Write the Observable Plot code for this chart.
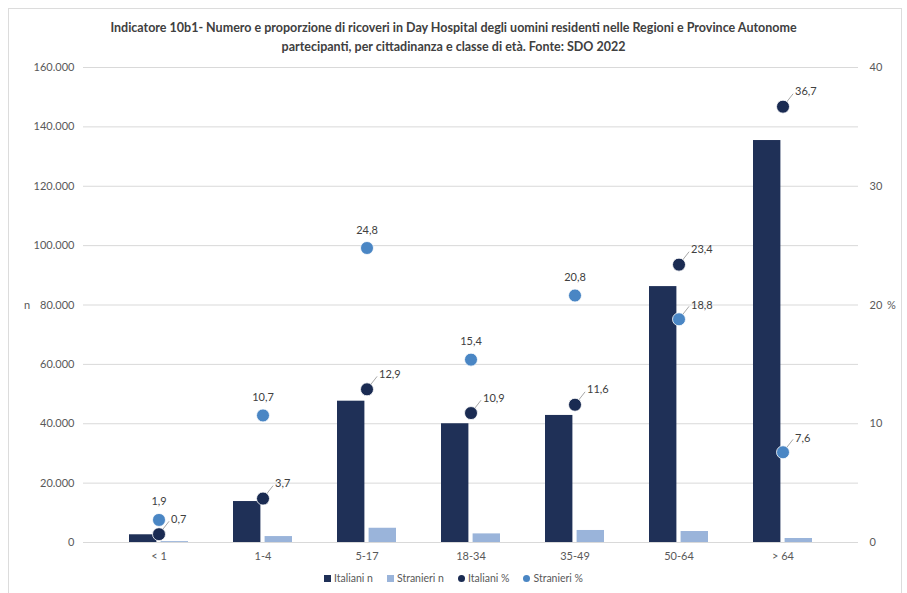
<!DOCTYPE html>
<html>
<head>
<meta charset="utf-8">
<script src="https://cdn.jsdelivr.net/npm/d3@7"></script>
<script src="https://cdn.jsdelivr.net/npm/@observablehq/plot@0.6"></script>
<style>
  html, body { margin: 0; padding: 0; background: #fff; }
  body { width: 907px; height: 593px; position: relative; overflow: hidden; font-family: Lato, "Open Sans", sans-serif; }
  #frame { position: absolute; left: 8px; top: 8px; width: 894px; height: 600px; border: 1px solid #dcdcdc; box-sizing: border-box; }
  #title { position: absolute; left: 0; top: 18px; width: 907px; text-align: center; font-weight: bold; font-size: 12.5px; line-height: 19px; color: #404040; }
  #chart { position: absolute; left: 0; top: 0; }
  #legend { position: absolute; left: 0; top: 572px; width: 907px; text-align: center; font-size: 10.5px; color: #595959; }
  #legend span.item { margin: 0 7px; }
  #legend i { display: inline-block; width: 7px; height: 7px; margin-right: 3px; vertical-align: 0px; }
  .side { position: absolute; font-size: 11px; color: #595959; }
</style>
</head>
<body>
<div id="frame"></div>
<div id="title">Indicatore 10b1- Numero e proporzione di ricoveri in Day Hospital degli uomini residenti nelle Regioni e Province Autonome<br>partecipanti, per cittadinanza e classe di età. Fonte: SDO 2022</div>
<div id="chart"></div>
<div class="side" style="left:24px; top:298px;">n</div>
<div class="side" style="left:887px; top:298px;">%</div>
<div id="legend"></div>
<script>
const categories = ["< 1", "1-4", "5-17", "18-34", "35-49", "50-64", "> 64"];
const italianiN = [2600, 13800, 47600, 40000, 42800, 86200, 135400];
const stranieriN = [300, 2000, 4800, 2900, 4050, 3700, 1350];
const italianiPct = [0.7, 3.7, 12.9, 10.9, 11.6, 23.4, 36.7];
const stranieriPct = [1.9, 10.7, 24.8, 15.4, 20.8, 18.8, 7.6];
const leftTicks = [0, 20000, 40000, 60000, 80000, 100000, 120000, 140000, 160000];
const rightTicks = [0, 10, 20, 30, 40];

const colors = { itN: "#1f3057", stN: "#9ab4da", itP: "#1a2b52", stP: "#4a86c4" };
const ratio = 160000 / 40; // right axis (%) to left axis (n)

const rows = categories.map((c, i) => ({
  cat: c, itN: italianiN[i], stN: stranieriN[i], itP: italianiPct[i], stP: stranieriPct[i]
}));
const fmtN = d => d3.format(",")(d).replace(/,/g, ".");
const fmtP = d => d3.format(".1f")(d).replace(".", ",");
const insideBar = r => r.stP * ratio < r.itN;

const stAbove = rows.filter(r => !insideBar(r));
const stSide = rows.filter(r => insideBar(r));

const noHead = { draw(ctx, l) { ctx.moveTo(0, 0); ctx.lineTo(0, -l); } };

const plot = Plot.plot({
  width: 907,
  height: 593,
  marginTop: 67,
  marginBottom: 51,
  marginLeft: 83,
  marginRight: 49,
  style: { fontFamily: "Lato, 'Open Sans', sans-serif", fontSize: "11px", color: "#595959", background: "transparent" },
  x: { domain: categories, padding: 0.43, label: null },
  y: { domain: [0, 160000], label: null },
  marks: [
    Plot.ruleY(leftTicks, { stroke: "#d9d9d9", strokeWidth: 1 }),
    Plot.axisY(leftTicks, { anchor: "left", tickSize: 0, tickPadding: 9, tickFormat: fmtN, label: null, fill: "#595959" }),
    Plot.axisY(rightTicks.map(t => t * ratio), { anchor: "right", tickSize: 0, tickPadding: 11, tickFormat: d => fmtN(d / ratio), label: null, fill: "#595959", textAnchor: "start" }),
    Plot.axisX({ tickSize: 0, tickPadding: 10, label: null, fill: "#595959" }),
    Plot.barY(rows, { x: "cat", y: "itN", fill: colors.itN, insetRight: 31.6 }),
    Plot.barY(rows, { x: "cat", y: "stN", fill: colors.stN, insetLeft: 31.6 }),
    // leader lines
    Plot.vector(rows, { x: "cat", y: d => d.itP * ratio, length: 16, rotate: 38, anchor: "start", shape: noHead, stroke: "#a6a6a6", strokeWidth: 0.9 }),
    Plot.vector(stSide, { x: "cat", y: d => d.stP * ratio, length: 16, rotate: 38, anchor: "start", shape: noHead, stroke: "#a6a6a6", strokeWidth: 0.9 }),
    Plot.dot(rows, { x: "cat", y: d => d.stP * ratio, r: 6.5, fill: colors.stP, stroke: "#ffffff", strokeWidth: 0.8 }),
    Plot.dot(rows, { x: "cat", y: d => d.itP * ratio, r: 6.5, fill: colors.itP, stroke: "#ffffff", strokeWidth: 0.8 }),
    Plot.text(stAbove, { x: "cat", y: d => d.stP * ratio, text: d => fmtP(d.stP), dy: -18, fill: "#404040", fontSize: 11 }),
    Plot.text(stSide, { x: "cat", y: d => d.stP * ratio, text: d => fmtP(d.stP), dx: 12, dy: -14, textAnchor: "start", fill: "#404040", fontSize: 11 }),
    Plot.text(rows, { x: "cat", y: d => d.itP * ratio, text: d => fmtP(d.itP), dx: 12, dy: -15, textAnchor: "start", fill: "#404040", fontSize: 11 })
  ]
});
document.getElementById("chart").appendChild(plot);

const legendItems = [
  { label: "Italiani n", color: colors.itN, round: false },
  { label: "Stranieri n", color: colors.stN, round: false },
  { label: "Italiani %", color: colors.itP, round: true },
  { label: "Stranieri %", color: colors.stP, round: true }
];
document.getElementById("legend").innerHTML = legendItems.map(it =>
  `<span class="item"><i style="background:${it.color};${it.round ? "border-radius:50%;" : ""}"></i>${it.label}</span>`
).join("");
</script>
</body>
</html>
